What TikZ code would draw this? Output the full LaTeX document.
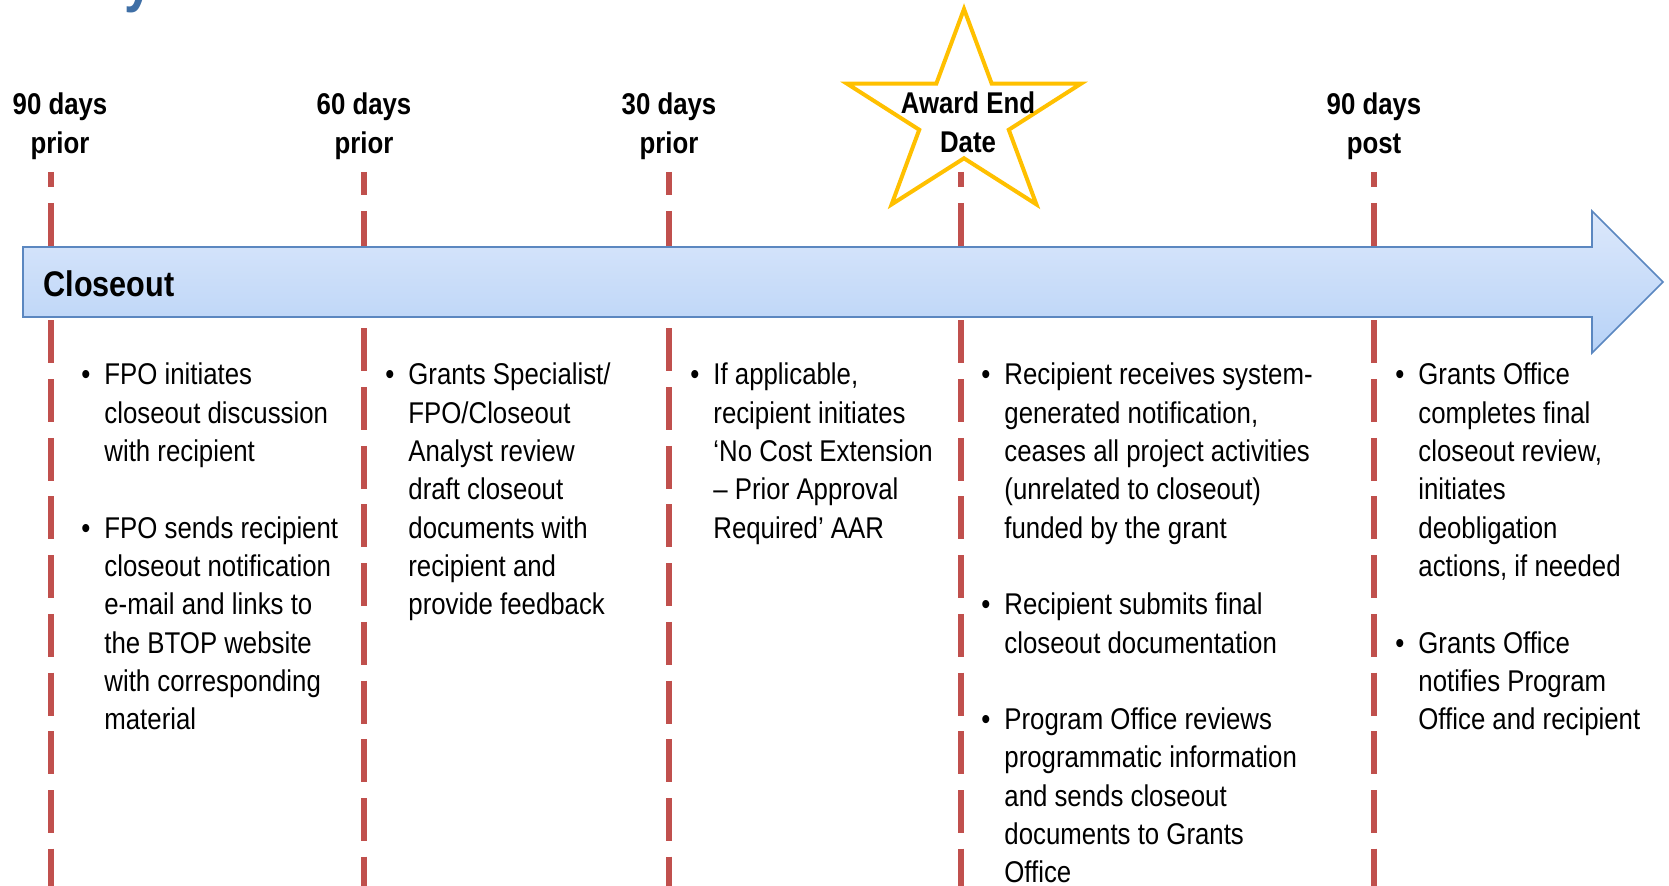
\documentclass[tikz,border=0pt]{standalone}
\usepackage{fontspec}
\setmainfont{Liberation Sans}[FakeStretch=0.86]
\definecolor{tickred}{HTML}{C0504D}
\definecolor{staryellow}{HTML}{FFC000}
\definecolor{arrowedge}{HTML}{5B87C0}
\definecolor{arrowtop}{HTML}{DCE8FB}
\definecolor{arrowbot}{HTML}{B7D2F7}
\definecolor{ttlblue}{HTML}{3F6FA6}
\newcommand{\itm}{\makebox[11.5pt][l]{\textbullet}}
\tikzset{
	dashline/.style={tickred, line width=2.8pt, dash pattern=on 21.5pt off 7.85pt},
	when/.style={font=\bfseries\fontsize{15}{19.5}\selectfont, anchor=base, inner sep=0pt},
	notes/.style={font=\fontsize{15}{19.15}\selectfont, anchor=base west, inner sep=0pt},
	band/.style={draw=arrowedge, line width=0.8pt, top color=arrowtop, bottom color=arrowbot},
	award/.style={draw=staryellow, line width=2pt, fill=white, line join=miter}
}

\begin{document}
\begin{tikzpicture}[x=0.5pt,y=-0.5pt]
	\useasboundingbox (0,0) rectangle (1669,886);
	% what is left of the title
	\node[anchor=base west, inner sep=0pt, text=ttlblue, font=\bfseries\fontsize{30}{36}\selectfont] (ttl) at (124,1) {y};
	% time marks
	\foreach \x/\ph in {51/13.85, 364/9.85, 669/9.85, 961/13.85, 1374/13.85}
		\draw[dashline, dash phase=\ph pt] (\x,172) -- (\x,900);
	% the closeout arrow
	\draw[band] (23,247) -- (1592,247) -- (1592,211) -- (1663,282) -- (1592,353) -- (1592,317) -- (23,317) -- cycle;
	\node[anchor=base west, inner sep=0pt, font=\bfseries\fontsize{17.8}{20}\selectfont] (phase) at (43,297) {Closeout};
	% star for the end date
	\begin{scope}[shift={(964,117)}, xscale=1.14]
		\draw[award] (-90:108) \foreach \i in {1,...,9} { -- ({-90+36*\i}:{ifthenelse(mod(\i,2)==1,41.3,108)}) } -- cycle;
	\end{scope}
	\node[when] (aed) at (968,153) {\begin{tabular}[b]{@{}c@{}}Award End\\Date\end{tabular}};
	\node[when] (pre90) at (60,154) {\begin{tabular}[b]{@{}c@{}}90 days\\prior\end{tabular}};
	\node[when] (pre60) at (364,154) {\begin{tabular}[b]{@{}c@{}}60 days\\prior\end{tabular}};
	\node[when] (pre30) at (669,154) {\begin{tabular}[b]{@{}c@{}}30 days\\prior\end{tabular}};
	\node[when] (post90) at (1374,154) {\begin{tabular}[b]{@{}c@{}}90 days\\post\end{tabular}};
	% what happens at each mark
	\node[notes] (col1) at (81,385) {\begin{tabular}[t]{@{}l@{}l@{}}
		\itm & FPO initiates\\
		& closeout discussion\\
		& with recipient\\
		& \\
		\itm & FPO sends recipient\\
		& closeout notification\\
		& e-mail and links to\\
		& the BTOP website\\
		& with corresponding\\
		& material
	\end{tabular}};
	\node[notes] (col2) at (385,385) {\begin{tabular}[t]{@{}l@{}l@{}}
		\itm & Grants Specialist/\\
		& FPO/Closeout\\
		& Analyst review\\
		& draft closeout\\
		& documents with\\
		& recipient and\\
		& provide feedback
	\end{tabular}};
	\node[notes] (col3) at (690,385) {\begin{tabular}[t]{@{}l@{}l@{}}
		\itm & If applicable,\\
		& recipient initiates\\
		& ‘No Cost Extension\\
		& -- Prior Approval\\
		& Required’ AAR
	\end{tabular}};
	\node[notes] (col4) at (981,385) {\begin{tabular}[t]{@{}l@{}l@{}}
		\itm & Recipient receives system-\\
		& generated notification,\\
		& ceases all project activities\\
		& (unrelated to closeout)\\
		& funded by the grant\\
		& \\
		\itm & Recipient submits final\\
		& closeout documentation\\
		& \\
		\itm & Program Office reviews\\
		& programmatic information\\
		& and sends closeout\\
		& documents to Grants\\
		& Office
	\end{tabular}};
	\node[notes] (col5) at (1395,385) {\begin{tabular}[t]{@{}l@{}l@{}}
		\itm & Grants Office\\
		& completes final\\
		& closeout review,\\
		& initiates\\
		& deobligation\\
		& actions, if needed\\
		& \\
		\itm & Grants Office\\
		& notifies Program\\
		& Office and recipient
	\end{tabular}};
\end{tikzpicture}
\end{document}
